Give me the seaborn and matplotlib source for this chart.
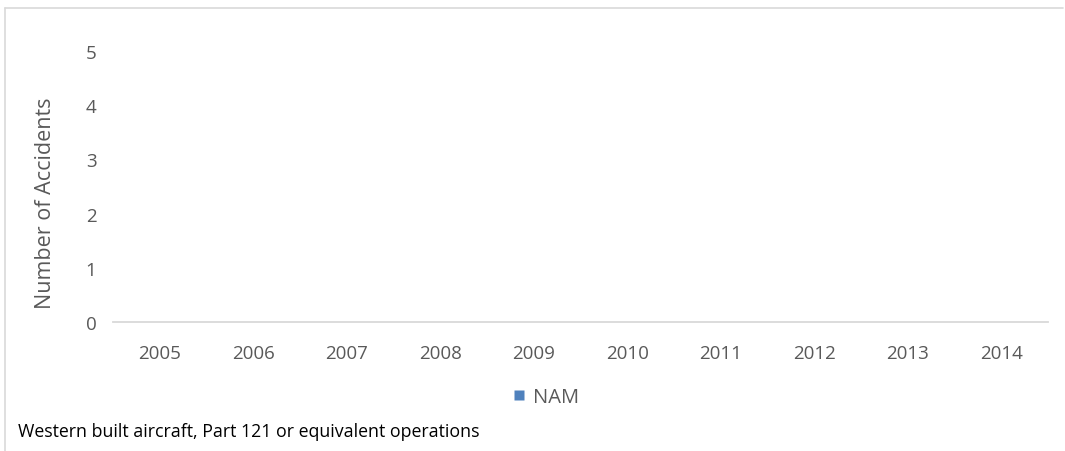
import matplotlib
matplotlib.use("Agg")
import matplotlib.pyplot as plt
import seaborn as sns
import pandas as pd
from matplotlib.lines import Line2D

years = ["2005", "2006", "2007", "2008", "2009", "2010", "2011", "2012", "2013", "2014"]
nam_accidents = [0, 0, 0, 0, 0, 0, 0, 0, 0, 0]
series_name = "NAM"
y_ticks = [0, 1, 2, 3, 4, 5]

sns.set_theme(style="white")
plt.rcParams["font.family"] = ["Open Sans", "DejaVu Sans"]

W, H = 1065, 452
fig = plt.figure(figsize=(W / 100, H / 100), dpi=100)
ax = fig.add_axes([113 / W, 1 - 323 / H, (1048 - 113) / W, (323 - 52) / H])

df = pd.DataFrame({"Year": years, "Accidents": nam_accidents, "Region": series_name})
sns.barplot(data=df, x="Year", y="Accidents", color="#4F81BD", width=0.6, ax=ax)

ax.set_xlim(-0.5, len(years) - 0.5)
ax.set_ylim(0, 5)
ax.set_yticks(y_ticks)
for s in ["top", "right", "left"]:
    ax.spines[s].set_visible(False)
ax.spines["bottom"].set_color("#d9d9d9")
ax.spines["bottom"].set_linewidth(1.3)
ax.tick_params(axis="both", length=0, labelsize=13.5, labelcolor="#595959")
ax.tick_params(axis="x", pad=16)
ax.tick_params(axis="y", pad=12)
ax.set_xlabel("")
ax.set_ylabel("")
fig.text(46 / W, 1 - 203 / H, "Number of Accidents", rotation=90, ha="center",
         va="center", fontsize=15.5, color="#595959")

handles = [Line2D([], [], marker="s", linestyle="none", markersize=7,
                  markerfacecolor="#4F81BD", markeredgecolor="none", label=series_name)]
fig.legend(handles=handles, loc="center", bbox_to_anchor=(546 / W, 1 - 398 / H),
           frameon=False, fontsize=14.5, handlelength=0.6, handletextpad=0.4,
           labelcolor="#595959")

fig.text(18 / W, 1 - 432 / H, "Western built aircraft, Part 121 or equivalent operations",
         ha="left", va="center", fontsize=12.8, color="#000000")

# outer frame (top and left edges)
fig.add_artist(Line2D([5 / W, 1063 / W], [1 - 9 / H, 1 - 9 / H], color="#d9d9d9", lw=1.2))
fig.add_artist(Line2D([5 / W, 5 / W], [1 - 9 / H, 0], color="#d9d9d9", lw=1.2))

fig.savefig("out.png", dpi=100)
